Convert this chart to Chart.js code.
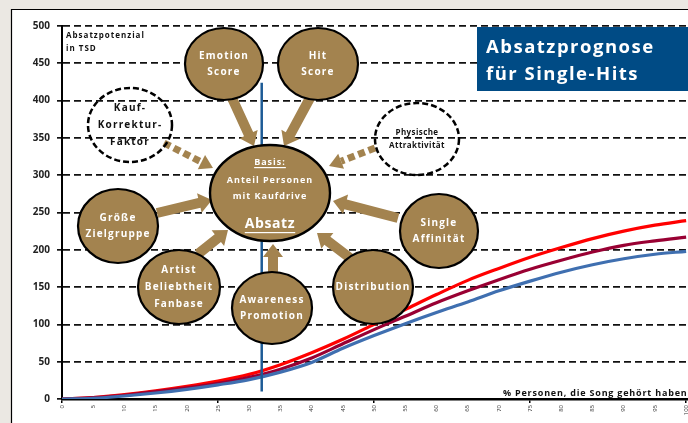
<!DOCTYPE html>
<html>
<head>
<meta charset="utf-8">
<script src="https://cdn.jsdelivr.net/npm/chart.js@4.4.0/dist/chart.umd.min.js"></script>
<style>
  html, body { margin: 0; padding: 0; background: #fff; overflow: hidden; }
  #wrap { width: 688px; height: 423px; position: relative; }
</style>
</head>
<body>
<div id="wrap"><canvas id="chart"></canvas></div>
<script>
// x: % Personen, die den Song gehört haben
const xPercent = [0, 5, 10, 15, 20, 25, 30, 35, 40, 45, 50, 55, 60, 65, 70, 75, 80, 85, 90, 95, 100];
// Absatzpotenzial in TSD, three scenarios
const absatzHoch    = [0, 2, 6, 11, 17, 24, 33, 46, 62, 80, 100, 120, 140, 159, 175, 190, 203, 215, 225, 233, 239];
const absatzMittel  = [0, 2, 5, 10, 15, 21, 29, 40, 55, 74, 93, 111, 129, 145, 160, 174, 186, 197, 206, 212, 217];
const absatzNiedrig = [0, 1, 4, 8, 13, 19, 26, 36, 49, 68, 85, 101, 116, 130, 145, 158, 170, 180, 188, 194, 198];
const yTicks = [0, 50, 100, 150, 200, 250, 300, 350, 400, 450, 500];
// vertical marker line (blue)
const markerX = [32, 32];
const markerY = [10, 424];

const BROWN = '#a3834f';

// infographic overlay (pixel layout)
const bubbles = [
  { cx: 224, cy: 64,  rx: 39, ry: 36, lines: ['Emotion', 'Score'] },
  { cx: 318, cy: 64,  rx: 40, ry: 36, lines: ['Hit', 'Score'] },
  { cx: 130, cy: 125, rx: 42, ry: 37, lines: ['Kauf-', 'Korrektur-', 'Faktor'], dashed: true },
  { cx: 417, cy: 139, rx: 42, ry: 36, lines: ['Physische', 'Attraktivität'], dashed: true, small: true },
  { cx: 118, cy: 226, rx: 40, ry: 37, lines: ['Größe', 'Zielgruppe'] },
  { cx: 179, cy: 287, rx: 41, ry: 37, lines: ['Artist', 'Beliebtheit', 'Fanbase'] },
  { cx: 272, cy: 308, rx: 40, ry: 36, lines: ['Awareness', 'Promotion'] },
  { cx: 373, cy: 287, rx: 40, ry: 37, lines: ['Distribution'] },
  { cx: 439, cy: 231, rx: 39, ry: 37, lines: ['Single', 'Affinität'] }
];
const arrows = [
  [232, 98, 254, 146],
  [310, 98, 284, 146],
  [164, 143, 213, 168, true],
  [375, 148, 329, 166, true],
  [157, 213, 212, 200],
  [198, 254, 228, 230],
  [273, 276, 273, 244],
  [350, 258, 317, 233],
  [398, 218, 333, 201]
];

Chart.defaults.font.family = '"Open Sans", sans-serif';

function drawArrow(ctx, x1, y1, x2, y2, dashed) {
  const ang = Math.atan2(y2 - y1, x2 - x1);
  const len = Math.hypot(x2 - x1, y2 - y1);
  const head = 13, hw = 10, sw = 5;
  ctx.save();
  ctx.translate(x1, y1);
  ctx.rotate(ang);
  ctx.fillStyle = BROWN;
  if (dashed) {
    for (let s = 0; s < len - head; s += 11) {
      ctx.fillRect(s, -3.5, Math.min(7, len - head - s), 7);
    }
    ctx.beginPath();
    ctx.moveTo(len - head, -hw * 0.8);
    ctx.lineTo(len, 0);
    ctx.lineTo(len - head, hw * 0.8);
    ctx.closePath();
    ctx.fill();
  } else {
    ctx.beginPath();
    ctx.moveTo(0, -sw);
    ctx.lineTo(len - head, -sw);
    ctx.lineTo(len - head, -hw);
    ctx.lineTo(len, 0);
    ctx.lineTo(len - head, hw);
    ctx.lineTo(len - head, sw);
    ctx.lineTo(0, sw);
    ctx.closePath();
    ctx.fill();
  }
  ctx.restore();
}

function underline(ctx, text, x, y) {
  const w = ctx.measureText(text).width;
  ctx.fillRect(x - w / 2, y, w, 1.2);
}

const background = {
  id: 'background',
  beforeDraw(chart) {
    const { ctx, width, height } = chart;
    ctx.save();
    ctx.fillStyle = '#ebe8e3';
    ctx.fillRect(0, 0, width, height);
    ctx.fillStyle = '#fff';
    ctx.fillRect(11, 9, width - 11, height - 9);
    ctx.strokeStyle = '#000';
    ctx.lineWidth = 1.2;
    ctx.beginPath();
    ctx.moveTo(11.5, height);
    ctx.lineTo(11.5, 9.5);
    ctx.lineTo(width, 9.5);
    ctx.stroke();
    ctx.restore();
  }
};

const overlay = {
  id: 'overlay',
  afterDatasetsDraw(chart) {
    const { ctx } = chart;
    ctx.save();

    arrows.forEach(a => drawArrow(ctx, a[0], a[1], a[2], a[3], a[4]));

    ctx.textAlign = 'center';
    ctx.textBaseline = 'middle';
    bubbles.forEach(b => {
      ctx.beginPath();
      ctx.ellipse(b.cx, b.cy, b.rx, b.ry, 0, 0, Math.PI * 2);
      if (b.dashed) {
        ctx.setLineDash([6, 3]);
        ctx.lineWidth = 2.5;
        ctx.strokeStyle = '#000';
        ctx.stroke();
        ctx.setLineDash([]);
        ctx.fillStyle = '#111';
      } else {
        ctx.fillStyle = BROWN;
        ctx.fill();
        ctx.lineWidth = 2.2;
        ctx.strokeStyle = '#000';
        ctx.stroke();
        ctx.fillStyle = '#fff';
      }
      const size = b.small ? 8 : 10;
      const gap = b.small ? 13 : (b.lines.length === 3 ? 17 : 16);
      ctx.font = 'bold ' + size + 'px "Open Sans"';
      ctx.letterSpacing = b.small ? '0.4px' : '1.2px';
      const y0 = b.cy - gap * (b.lines.length - 1) / 2;
      b.lines.forEach((t, i) => ctx.fillText(t, b.cx, y0 + i * gap));
    });

    // centre bubble
    ctx.beginPath();
    ctx.ellipse(270, 193, 60, 48, 0, 0, Math.PI * 2);
    ctx.fillStyle = BROWN;
    ctx.fill();
    ctx.lineWidth = 2.4;
    ctx.strokeStyle = '#000';
    ctx.stroke();
    ctx.fillStyle = '#fff';
    ctx.font = 'bold 9px "Open Sans"';
    ctx.letterSpacing = '1px';
    ctx.fillText('Basis:', 270, 162);
    underline(ctx, 'Basis:', 270, 167);
    ctx.fillText('Anteil Personen', 270, 180);
    ctx.fillText('mit Kaufdrive', 270, 196);
    ctx.font = 'bold 14px "Open Sans"';
    ctx.letterSpacing = '0.6px';
    ctx.fillText('Absatz', 270, 224);
    underline(ctx, 'Absatz', 270, 232);

    // title box
    ctx.fillStyle = '#004b85';
    ctx.fillRect(477, 27, chart.width - 477, 64);
    ctx.fillStyle = '#fff';
    ctx.textAlign = 'left';
    ctx.textBaseline = 'alphabetic';
    ctx.font = 'bold 18.5px "Open Sans"';
    ctx.letterSpacing = '1.5px';
    ctx.fillText('Absatzprognose', 486, 53);
    ctx.fillText('für Single-Hits', 486, 80);

    // axis captions
    ctx.fillStyle = '#111';
    ctx.font = 'bold 8px "Open Sans"';
    ctx.letterSpacing = '1px';
    ctx.fillText('Absatzpotenzial', 66, 38);
    ctx.fillText('in TSD', 66, 51);
    ctx.font = 'bold 9px "Open Sans"';
    ctx.letterSpacing = '0.8px';
    ctx.fillText('% Personen, die Song gehört haben', 503, 396);

    ctx.restore();
  }
};

function points(ys) {
  return xPercent.map((x, i) => ({ x: x, y: ys[i] }));
}

new Chart(document.getElementById('chart'), {
  type: 'line',
  data: {
    datasets: [
      {
        label: 'Marker',
        data: markerX.map((x, i) => ({ x: x, y: markerY[i] })),
        borderColor: '#1d5b96',
        borderWidth: 2.5,
        pointRadius: 0
      },
      {
        label: 'niedrig',
        data: points(absatzNiedrig),
        borderColor: '#3f6fb0',
        borderWidth: 3.2,
        pointRadius: 0,
        cubicInterpolationMode: 'monotone'
      },
      {
        label: 'mittel',
        data: points(absatzMittel),
        borderColor: '#990033',
        borderWidth: 3.2,
        pointRadius: 0,
        cubicInterpolationMode: 'monotone'
      },
      {
        label: 'hoch',
        data: points(absatzHoch),
        borderColor: '#ff0000',
        borderWidth: 3.2,
        pointRadius: 0,
        cubicInterpolationMode: 'monotone'
      }
    ]
  },
  options: {
    responsive: true,
    maintainAspectRatio: false,
    animation: false,
    layout: { padding: { top: 26, right: 0, bottom: 0, left: 0 } },
    plugins: {
      legend: { display: false },
      tooltip: { enabled: false }
    },
    scales: {
      x: {
        type: 'linear',
        min: 0,
        max: 100.3,
        afterFit: scale => {
          scale.height = 24;
          scale.paddingLeft = 0;
          scale.paddingRight = 0;
        },
        border: { color: '#000', width: 2.5 },
        grid: {
          drawOnChartArea: false,
          tickLength: 4,
          color: c => (c.tick && c.tick.value % 25 === 0) ? '#000' : 'rgba(0,0,0,0)',
          lineWidth: 1.5
        },
        ticks: {
          stepSize: 5,
          includeBounds: false,
          autoSkip: false,
          minRotation: 90,
          maxRotation: 90,
          padding: 2,
          color: '#333',
          font: { size: 6 },
          callback: v => String(v)
        }
      },
      y: {
        min: 0,
        max: 500,
        afterFit: scale => { scale.width = 62; },
        afterBuildTicks: scale => { scale.ticks = yTicks.map(v => ({ value: v })); },
        border: { color: '#000', width: 2, dash: [7, 4] },
        grid: {
          color: '#111',
          lineWidth: 1.7,
          tickLength: 5,
          tickBorderDash: []
        },
        ticks: {
          padding: 7,
          color: '#222',
          font: { size: 10, weight: 'bold' }
        }
      }
    }
  },
  plugins: [background, overlay]
});
</script>
</body>
</html>
